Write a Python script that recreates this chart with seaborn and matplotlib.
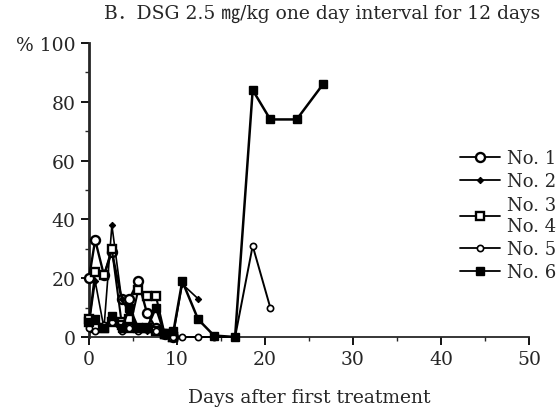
import matplotlib
matplotlib.use("Agg")
import matplotlib.pyplot as plt
from matplotlib.lines import Line2D
import seaborn as sns
import pandas as pd

# ---- data ----
days_1 = [0, 0.7, 1.7, 2.6, 3.7, 4.6, 5.6, 6.6, 7.6, 8.6, 9.6]
vals_1 = [20, 33, 21, 29, 13, 13, 19, 8, 3, 1, 0]

days_2 = [0, 0.7, 1.7, 2.6, 3.7, 4.6, 5.6, 6.6, 7.6, 8.6, 9.6, 10.6, 12.4]
vals_2 = [4, 19, 3, 38, 13, 8, 3, 2, 2, 1, 1, 18, 13]

days_3 = [0, 0.7, 1.7, 2.6, 3.7, 4.6, 5.6, 6.6, 7.6, 8.6, 9.6]
vals_3 = [5, 22, 21, 30, 5, 3, 16, 14, 14, 1, 0]

days_4 = [0, 0.7, 1.7, 2.6, 3.7, 4.6, 5.6, 6.6, 7.6, 8.6, 9.6]
vals_4 = [6, 3, 3, 5, 4, 6, 3, 3, 2, 1, 0]

days_5 = [0, 0.7, 1.7, 2.6, 3.7, 4.6, 5.6, 6.6, 7.6, 8.6, 9.6, 10.6, 12.4, 14.2, 16.6, 18.6, 20.6]
vals_5 = [3, 2, 4, 5, 2, 3, 2, 3, 2, 1, 0, 0, 0, 0, 0, 31, 10]

days_6 = [0, 0.7, 1.7, 2.6, 3.7, 4.6, 5.6, 6.6, 7.6, 8.6, 9.6, 10.6, 12.4, 14.2, 16.6, 18.6, 20.6, 23.6, 26.6]
vals_6 = [5, 6, 3, 7, 3, 10, 3, 3, 10, 1, 2, 19, 6, 0.5, 0, 84, 74, 74, 86]

series_names = ["No. 1", "No. 2", "No. 3", "No. 4", "No. 5", "No. 6"]
legend_labels = ["No. 1", "No. 2", "No. 3\nNo. 4", "No. 5", "No. 6"]
x_ticks = [0, 10, 20, 30, 40, 50]
y_ticks = [0, 20, 40, 60, 80, 100]
y_tick_labels = ["0", "20", "40", "60", "80", "% 100"]
title_text = "B．DSG 2.5 ㎎/kg one day interval for 12 days"
x_label = "Days after first treatment"

all_days = [days_1, days_2, days_3, days_4, days_5, days_6]
all_vals = [vals_1, vals_2, vals_3, vals_4, vals_5, vals_6]

frames = []
for name, d, v in zip(series_names, all_days, all_vals):
    frames.append(pd.DataFrame({"day": d, "pct": v, "animal": name}))
df = pd.concat(frames, ignore_index=True)

# ---- style ----
sns.set_style("ticks")
plt.rcParams["font.family"] = ["DejaVu Serif", "Noto Sans CJK JP"]

styles = {
    "No. 1": dict(marker="o", markersize=6.5, markerfacecolor="white", markeredgewidth=1.7, linewidth=1.7),
    "No. 2": dict(marker="D", markersize=3.2, markerfacecolor="black", markeredgewidth=0.8, linewidth=1.2),
    "No. 3": dict(marker="s", markersize=5.5, markerfacecolor="white", markeredgewidth=1.7, linewidth=1.5),
    "No. 4": dict(marker="s", markersize=5.5, markerfacecolor="white", markeredgewidth=1.7, linewidth=1.5),
    "No. 5": dict(marker="o", markersize=4.5, markerfacecolor="white", markeredgewidth=1.2, linewidth=1.4),
    "No. 6": dict(marker="s", markersize=5.5, markerfacecolor="black", markeredgewidth=1.0, linewidth=1.8),
}

fig = plt.figure(figsize=(5.6, 4.1), dpi=100)
ax = fig.add_axes([89 / 560, 1 - 338 / 410, 440 / 560, 294 / 410])

for name in series_names:
    sub = df[df["animal"] == name]
    sns.lineplot(data=sub, x="day", y="pct", ax=ax, color="black",
                 markeredgecolor="black", clip_on=False, zorder=3,
                 estimator=None, sort=False, **styles[name])

ax.set_xlim(0, 50)
ax.set_ylim(0, 100)
ax.set_xticks(x_ticks)
ax.set_xticks([5, 15, 25, 35, 45], minor=True)
ax.set_yticks(y_ticks)
ax.set_yticks([10, 30, 50, 70, 90], minor=True)
ax.set_yticklabels(y_tick_labels)
ax.tick_params(axis="both", which="major", labelsize=13.5, length=6, width=1.3, color="black")
ax.tick_params(axis="y", which="minor", length=3, width=1.0, direction="out")
ax.tick_params(axis="x", which="minor", length=3, width=1.0)
ax.set_xlabel(x_label, fontsize=13.5, labelpad=14)
ax.set_ylabel("")
sns.despine(ax=ax)
ax.spines["left"].set_linewidth(2.0)
ax.spines["bottom"].set_linewidth(1.3)

fig.text(104 / 560, 1 - 14 / 410, title_text, fontsize=13.5, ha="left", va="center")

handles = []
for key in ["No. 1", "No. 2", "No. 3", "No. 5", "No. 6"]:
    st = styles[key]
    handles.append(Line2D([0], [0], color="black", markeredgecolor="black",
                          marker=st["marker"], markersize=st["markersize"],
                          markerfacecolor=st["markerfacecolor"],
                          markeredgewidth=st["markeredgewidth"],
                          linewidth=1.3))
leg = ax.legend(handles, legend_labels, loc="upper left",
                bbox_to_anchor=(460 / 560, 1 - 150 / 410),
                bbox_transform=fig.transFigure, frameon=False,
                fontsize=13, handlelength=2.2, handletextpad=0.4,
                labelspacing=0.3, borderaxespad=0, borderpad=0)

fig.savefig("out.png", dpi=100)
